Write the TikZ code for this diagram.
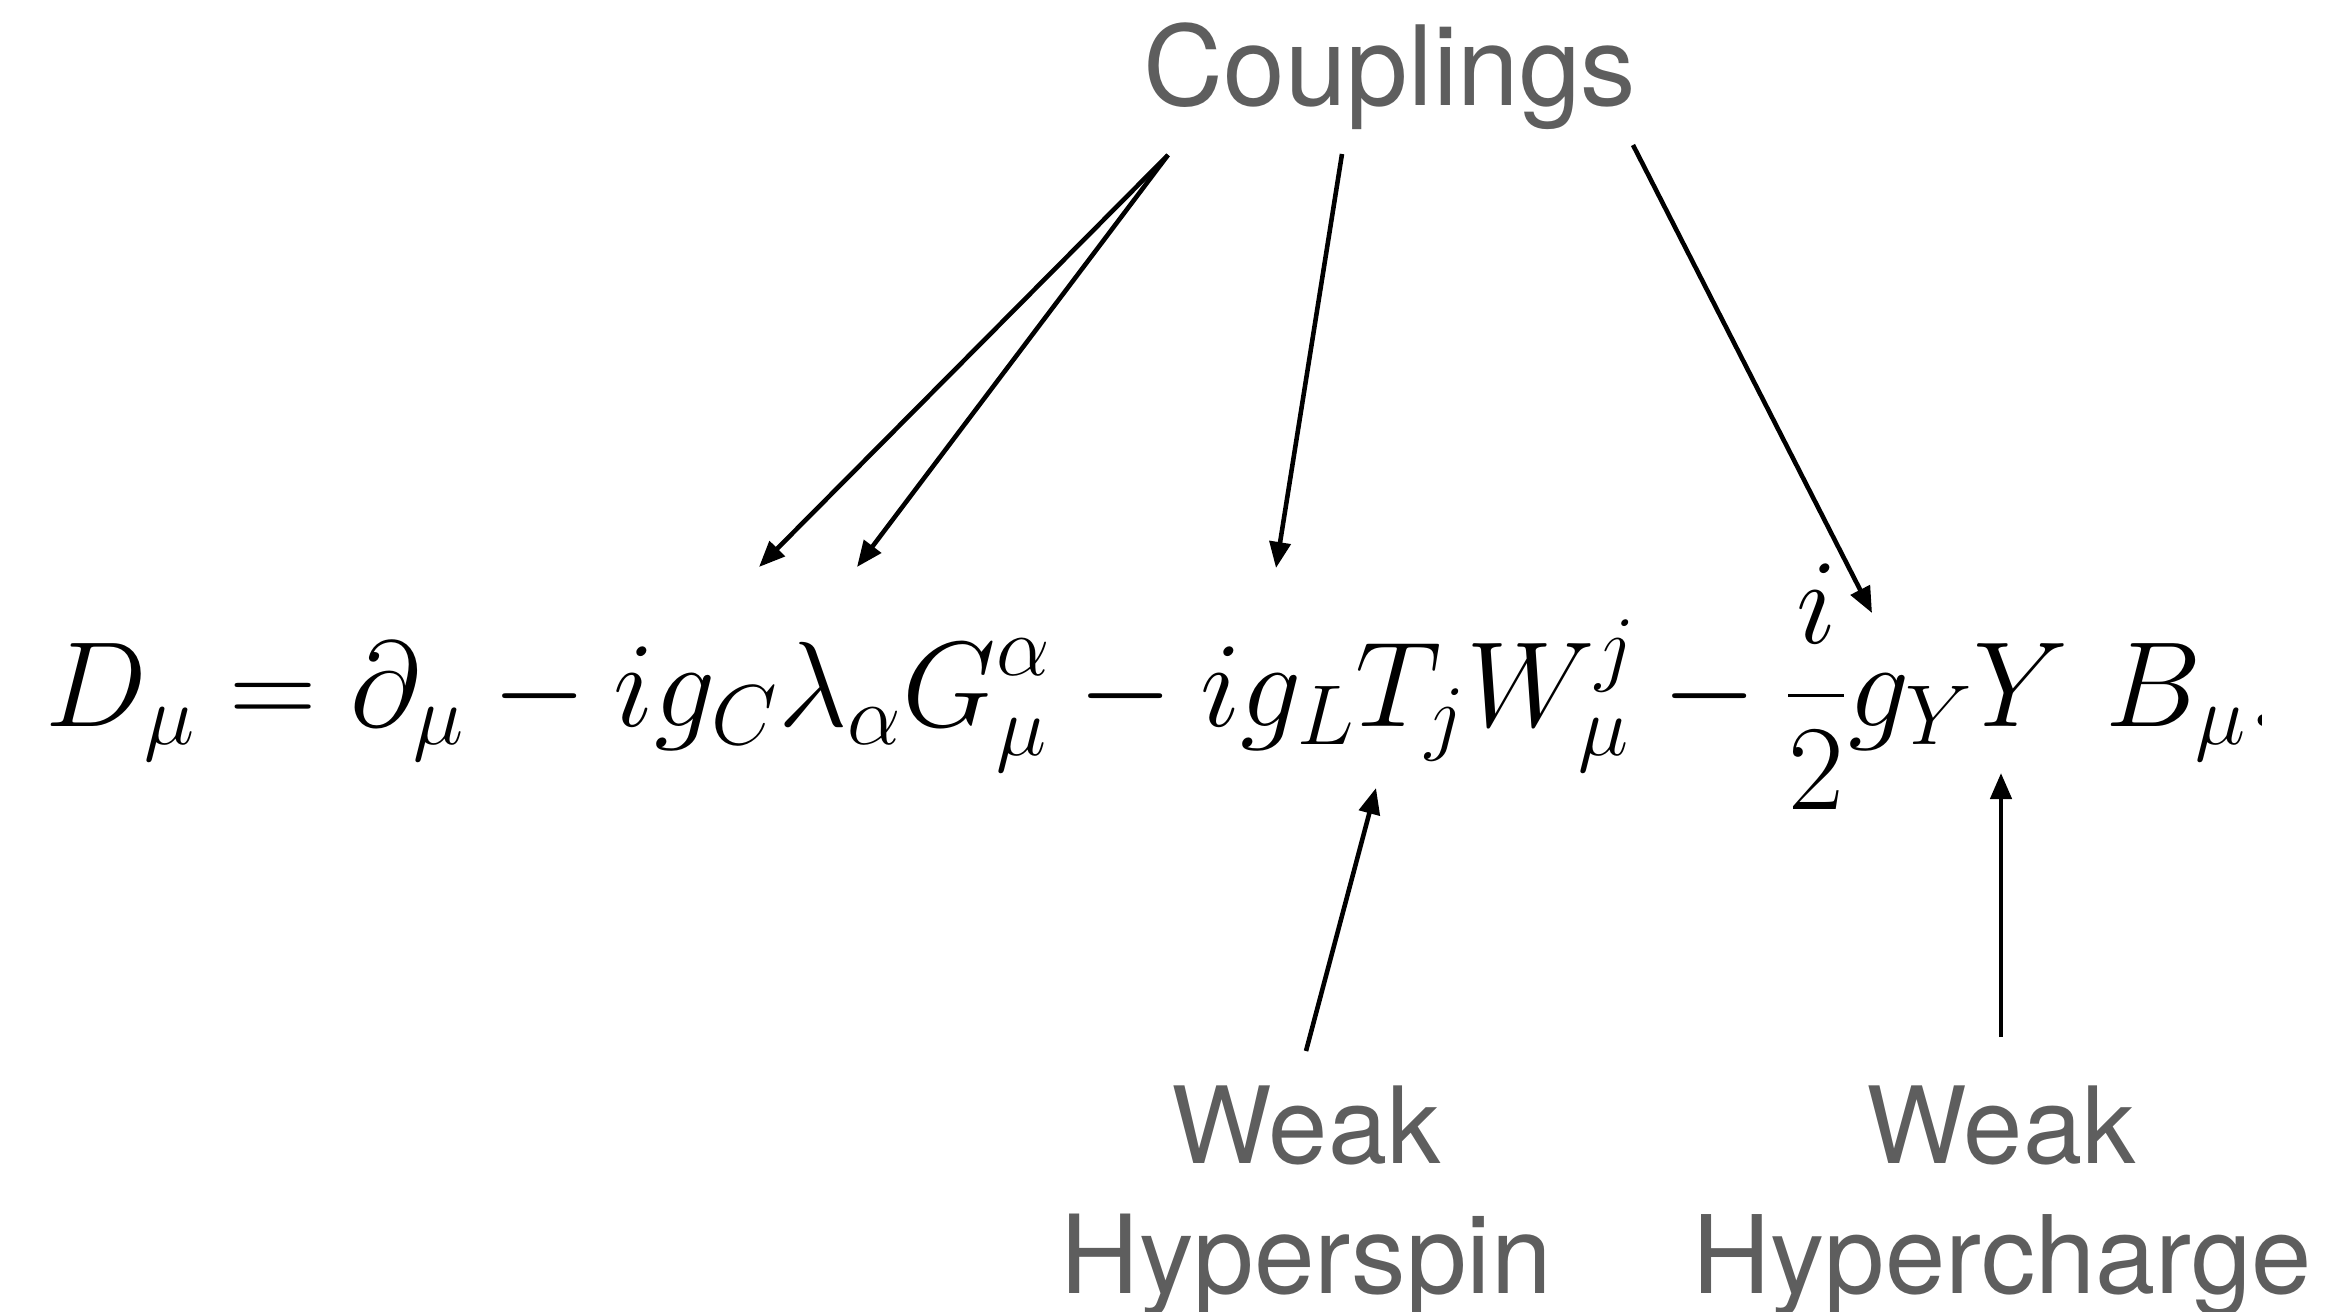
\RequirePackage{fix-cm}
\documentclass[tikz,border=0pt]{standalone}
\usepackage{exscale}
\usepackage{fontspec}
\setsansfont{TeX Gyre Heros}
\usetikzlibrary{arrows.meta}
\definecolor{labelgray}{RGB}{94,94,94}

\begin{document}
\begin{tikzpicture}[x=0.01cm, y=-0.01cm,
  lbl/.style={font=\fontsize{#1}{36}\selectfont\sffamily, text=labelgray,
              inner sep=0pt, anchor=base},
  lbl/.default=31,
  ptr/.style={-{Triangle[length=0.26cm,width=0.21cm]}, line width=1.3pt, black},
]
\useasboundingbox (0,0) rectangle (2326,1312);

% the covariant derivative, cut off through the closing period
\begin{scope}
  \clip (0,0) rectangle (2261,1312);
  \node[anchor=base west, inner sep=0pt, font=\fontsize{34.5}{40}\selectfont] (eq) at (45,726)
    {$\displaystyle D_\mu = \partial_\mu - i g_C \lambda_\alpha G^\alpha_\mu
      - i g_L T_j W^j_\mu - \frac{i}{2} g_Y Y\ B_\mu.$};
\end{scope}

% labels
\node[lbl=31.5] (cpl) at (1390,105) {Couplings};
\node[lbl=30.3] (wk1) at (1306,1163) {Weak};
\node[lbl=31]   (hs)  at (1306,1293) {Hyperspin};
\node[lbl=30.3] (wk2) at (2001,1163) {Weak};
\node[lbl=30.8] (hc)  at (2002,1293) {Hypercharge};

% arrow ends
\coordinate (sA) at (1168,155);
\coordinate (sC) at (1342,154);
\coordinate (sD) at (1633,145);
\coordinate (sE) at (1306,1051);
\coordinate (sF) at (2001,1037);
\coordinate (tA) at (759,567);
\coordinate (tB) at (857,567);
\coordinate (tC) at (1276,568);
\coordinate (tD) at (1872,613);
\coordinate (tE) at (1376,788);
\coordinate (tF) at (2001,773);

\draw[ptr] (sA) -- (tA);
\draw[ptr] (sA) -- (tB);
\draw[ptr] (sC) -- (tC);
\draw[ptr] (sD) -- (tD);
\draw[ptr] (sE) -- (tE);
\draw[ptr] (sF) -- (tF);
\end{tikzpicture}
\end{document}
